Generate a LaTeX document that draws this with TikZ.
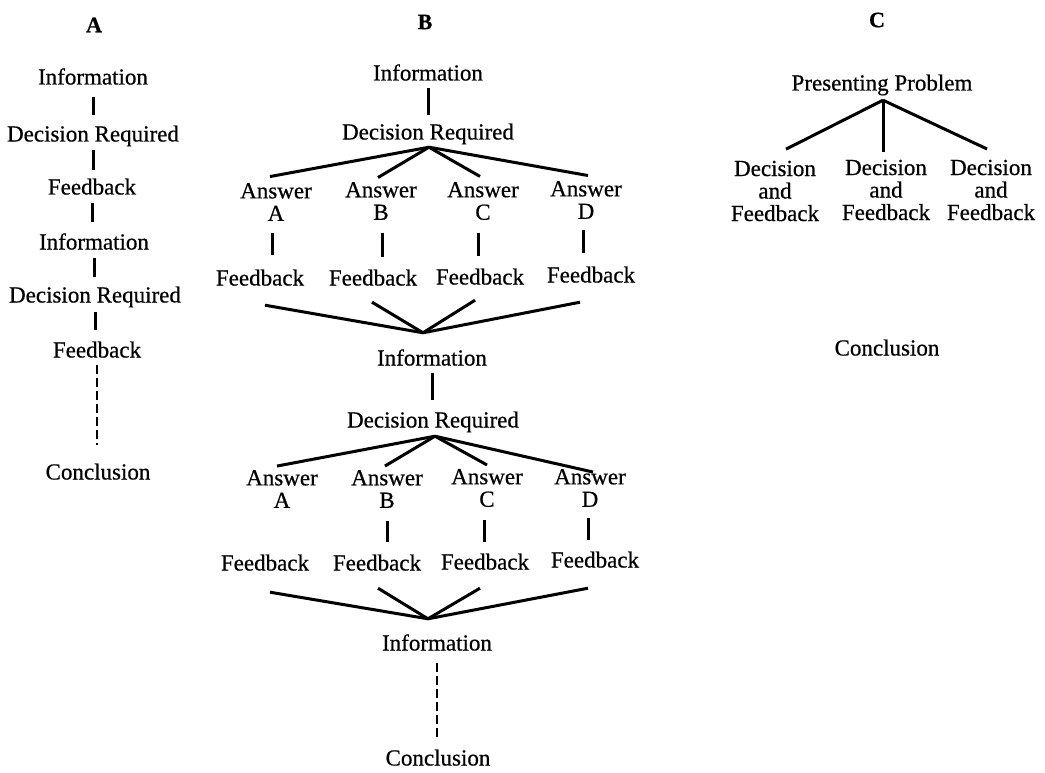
\documentclass[tikz,border=0pt]{standalone}
\usepackage{fontspec}
\setmainfont[FakeBold=0.6]{Liberation Serif}
\begin{document}
\begin{tikzpicture}[x=1pt,y=-1pt,
  txt/.style={font=\fontsize{23}{22.5}\selectfont, inner sep=0pt, text height=15pt, text depth=0pt},
  mtxt/.style={font=\fontsize{23}{22.5}\selectfont, inner sep=0pt, align=center},
  hd/.style={font=\fontsize{22}{22}\selectfont\bfseries, inner sep=0pt},
  ln/.style={line width=3pt},
  dl/.style={line width=2.6pt, dash pattern=on 9pt off 4pt}]
\useasboundingbox (0,0) rectangle (1045,773);

% ---------------- A ----------------
\node[hd] (hA) at (94,25) {A};
\node[txt] (a1) at (93,77) {Information};
\node[txt] (a2) at (93,134) {Decision Required};
\node[txt] (a3) at (92,187) {Feedback};
\node[txt] (a4) at (94,242) {Information};
\node[txt] (a5) at (95,295) {Decision Required};
\node[txt] (a6) at (97,350) {Feedback};
\node[txt] (a7) at (98,472) {Conclusion};

\draw[ln, shorten <=12.5pt, shorten >=11.5pt] (a1.south) -- (a1.south |- a2.north);
\draw[ln, shorten <=8.5pt, shorten >=9.5pt] (a2.south) -- (a2.south |- a3.north);
\draw[ln, shorten <=8.5pt, shorten >=12.5pt] (a3.south) -- (a3.south |- a4.north);
\draw[ln, shorten <=8.5pt, shorten >=10.5pt] (a4.south) -- (a4.south |- a5.north);
\draw[ln, shorten <=9.5pt, shorten >=12.5pt] (a5.south) -- (a5.south |- a6.north);
\draw[dl, shorten <=7.5pt, shorten >=19.5pt] (a6.south) -- (a6.south |- a7.north);

% ---------------- B ----------------
\node[hd] (hB) at (425,22) {B};
\node[txt] (b1) at (428,73) {Information};
\node[txt] (b2) at (428,132) {Decision Required};
\node[mtxt] (qa) at (276,202) {Answer\\A};
\node[mtxt] (qb) at (381,201) {Answer\\B};
\node[mtxt] (qc) at (483,201) {Answer\\C};
\node[mtxt] (qd) at (586,200) {Answer\\D};
\node[txt] (fa) at (260,278) {Feedback};
\node[txt] (fb) at (373,278) {Feedback};
\node[txt] (fc) at (480,277) {Feedback};
\node[txt] (fd) at (591,275) {Feedback};
\node[txt] (b3) at (432,358) {Information};
\node[txt] (b4) at (433,420) {Decision Required};
\node[mtxt] (qa2) at (282,489) {Answer\\A};
\node[mtxt] (qb2) at (387,489) {Answer\\B};
\node[mtxt] (qc2) at (487,488) {Answer\\C};
\node[mtxt] (qd2) at (590,488) {Answer\\D};
\node[txt] (fa2) at (265,563) {Feedback};
\node[txt] (fb2) at (377,563) {Feedback};
\node[txt] (fc2) at (485,562) {Feedback};
\node[txt] (fd2) at (595,560) {Feedback};
\node[txt] (b5) at (437,643) {Information};
\node[txt] (b6) at (438,758) {Conclusion};

\draw[ln, shorten <=7.5pt, shorten >=9.5pt] (b1.south) -- (b1.south |- b2.north);
% fan 1
\draw[ln] ([xshift=1pt,yshift=-7.5pt]b2.south) -- ([xshift=-6pt,yshift=6.4pt]qa.north);
\draw[ln] ([xshift=1pt,yshift=-7.5pt]b2.south) -- ([xshift=-3pt,yshift=4.4pt]qb.north);
\draw[ln] ([xshift=1pt,yshift=-7.5pt]b2.south) -- ([xshift=-3pt,yshift=5.4pt]qc.north);
\draw[ln] ([xshift=1pt,yshift=-7.5pt]b2.south) -- ([xshift=2pt,yshift=5.4pt]qd.north);
% answers -> feedback
\draw[ln, shorten <=11.5pt, shorten >=15.5pt] ([xshift=-4pt]qa.south) -- ([xshift=-4pt]qa.south |- fa.north);
\draw[ln, shorten <=12.5pt, shorten >=13.5pt] ([xshift=1pt]qb.south) -- ([xshift=1pt]qb.south |- fb.north);
\draw[ln, shorten <=12.5pt, shorten >=13.5pt] ([xshift=-5pt]qc.south) -- ([xshift=-5pt]qc.south |- fc.north);
\draw[ln, shorten <=10.5pt, shorten >=14.5pt] ([xshift=-3pt]qd.south) -- ([xshift=-3pt]qd.south |- fd.north);
% converge 1
\draw[ln] ([xshift=5pt,yshift=-19.5pt]fa.south) -- ([xshift=-9pt,yshift=17.5pt]b3.north);
\draw[ln] ([xshift=-1pt,yshift=-16.5pt]fb.south) -- ([xshift=-9pt,yshift=17.5pt]b3.north);
\draw[ln] ([xshift=-5pt,yshift=-15.5pt]fc.south) -- ([xshift=-9pt,yshift=17.5pt]b3.north);
\draw[ln] ([xshift=-11pt,yshift=-19.5pt]fd.south) -- ([xshift=-9pt,yshift=17.5pt]b3.north);

\draw[ln, shorten <=7.5pt, shorten >=12.5pt] (b3.south) -- (b3.south |- b4.north);
% fan 2
\draw[ln] ([xshift=2pt,yshift=-8.5pt]b4.south) -- ([xshift=-5pt,yshift=3.9pt]qa2.north);
\draw[ln] ([xshift=2pt,yshift=-8.5pt]b4.south) -- ([xshift=-2pt,yshift=3.9pt]qb2.north);
\draw[ln] ([xshift=2pt,yshift=-8.5pt]b4.south) -- ([xshift=0pt,yshift=3.9pt]qc2.north);
\draw[ln] ([xshift=2pt,yshift=-8.5pt]b4.south) -- ([xshift=3pt,yshift=-3.1pt]qd2.north);
% answers -> feedback
\draw[ln, shorten <=12.9pt, shorten >=13.5pt] (qb2.south) -- (qb2.south |- fb2.north);
\draw[ln, shorten <=12.9pt, shorten >=12.5pt] ([xshift=-3pt]qc2.south) -- ([xshift=-3pt]qc2.south |- fc2.north);
\draw[ln, shorten <=10.9pt, shorten >=12.5pt] ([xshift=-2pt]qd2.south) -- ([xshift=-2pt]qd2.south |- fd2.north);
% converge 2
\draw[ln] ([xshift=5pt,yshift=-21.5pt]fa2.south) -- ([xshift=-9pt,yshift=16.5pt]b5.north);
\draw[ln] ([xshift=1pt,yshift=-17.5pt]fb2.south) -- ([xshift=-9pt,yshift=16.5pt]b5.north);
\draw[ln] ([xshift=-5pt,yshift=-18.5pt]fc2.south) -- ([xshift=-9pt,yshift=16.5pt]b5.north);
\draw[ln] ([xshift=-7pt,yshift=-20.5pt]fd2.south) -- ([xshift=-9pt,yshift=16.5pt]b5.north);

\draw[dl, shorten <=12.5pt, shorten >=13.5pt] (b5.south) -- (b5.south |- b6.north);

% ---------------- C ----------------
\node[hd] (hC) at (877,20) {C};
\node[txt] (c1) at (882,83) {Presenting Problem};
\node[mtxt] (d1) at (775,191) {Decision\\and\\Feedback};
\node[mtxt] (d2) at (886,190) {Decision\\and\\Feedback};
\node[mtxt] (d3) at (991,190) {Decision\\and\\Feedback};
\node[txt] (c2) at (887,348) {Conclusion};

\draw[ln] ([xshift=1pt,yshift=-9.5pt]c1.south) -- ([xshift=11pt,yshift=11.4pt]d1.north);
\draw[ln] ([xshift=1pt,yshift=-9.5pt]c1.south) -- ([xshift=-3pt,yshift=7.6pt]d2.north);
\draw[ln] ([xshift=1pt,yshift=-9.5pt]c1.south) -- ([xshift=-4pt,yshift=10.6pt]d3.north);
\end{tikzpicture}
\end{document}
